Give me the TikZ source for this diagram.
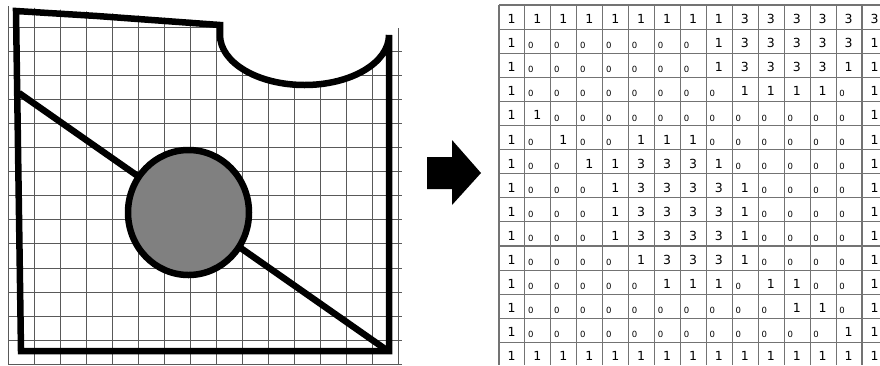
\documentclass[tikz,border=0pt]{standalone}
\usepackage{fontspec}
\setmainfont{DejaVu Sans}
\usetikzlibrary{positioning}

\begin{document}
\begin{tikzpicture}[
    x=1pt, y=-1pt,
    gridline/.style={black!65, line width=1pt},
    cellline/.style={black!55, line width=1.1pt},
    outline/.style={line width=6.5pt, line join=miter},
    blob/.style={line width=6.5pt, fill=black!50},
    num/.style={inner sep=0pt, font=\fontsize{12.5}{14}\selectfont},
    zero/.style={inner sep=0pt, font=\fontsize{8.5}{9}\selectfont}
]
\useasboundingbox (0,0) rectangle (880,365);

% Grid behind the shape
\begin{scope}
\clip (8,6) -- (97,12) -- (220,22) -- (220,35) arc[start angle=180, end angle=0, x radius=84.5, y radius=50] -- (389,28) -- (402,28) -- (402,365) -- (8,365) -- cycle;
\foreach \i in {0,...,15} \draw[gridline] ({8+26*\i},0) -- ({8+26*\i},365);
\foreach \j in {0,...,14} \draw[gridline] (8,{27+24.1*\j}) -- (402,{27+24.1*\j});
\end{scope}

% Shape with notch
\draw[outline] (16,11) -- (97,16) -- (220,25) -- (220,35) arc[start angle=180, end angle=0, x radius=84.5, y radius=50] -- (389,351) -- (21,351) -- cycle;
\draw[outline] (19,93) -- (388,351);

% Disc
\draw[blob] (188.5,212.5) ellipse [x radius=60.5, y radius=62.5];

% Arrow
\fill (427,157) -- (452,157) -- (452,140) -- (481,173) -- (452,205) -- (452,189) -- (427,189) -- cycle;

% Table lines
\foreach \i in {0,...,15} \draw[cellline] ({499+25.93*\i},5) -- ({499+25.93*\i},365);
\foreach \j in {0,...,15} \draw[cellline] (499,{5+24.1*\j}) -- (880,{5+24.1*\j});

% Table values
\foreach \vals [count=\r] in {
    {1,1,1,1,1,1,1,1,1,3,3,3,3,3,3},
    {1,0,0,0,0,0,0,0,1,3,3,3,3,3,1},
    {1,0,0,0,0,0,0,0,1,3,3,3,3,1,1},
    {1,0,0,0,0,0,0,0,0,1,1,1,1,0,1},
    {1,1,0,0,0,0,0,0,0,0,0,0,0,0,1},
    {1,0,1,0,0,1,1,1,0,0,0,0,0,0,1},
    {1,0,0,1,1,3,3,3,1,0,0,0,0,0,1},
    {1,0,0,0,1,3,3,3,3,1,0,0,0,0,1},
    {1,0,0,0,1,3,3,3,3,1,0,0,0,0,1},
    {1,0,0,0,1,3,3,3,3,1,0,0,0,0,1},
    {1,0,0,0,0,1,3,3,3,1,0,0,0,0,1},
    {1,0,0,0,0,0,1,1,1,0,1,1,0,0,1},
    {1,0,0,0,0,0,0,0,0,0,0,1,1,0,1},
    {1,0,0,0,0,0,0,0,0,0,0,0,0,1,1},
    {1,1,1,1,1,1,1,1,1,1,1,1,1,1,1}%
}{
    \foreach \v [count=\c] in \vals {
        \ifnum\v=0
            \node[zero] (cell-\r-\c) at ({499+25.93*(\c-1)+6},{5+24.1*(\r-1)+16.5}) {0};
        \else
            \node[num] (cell-\r-\c) at ({499+25.93*(\c-1)+12.5},{5+24.1*(\r-1)+14}) {\v};
        \fi
    }
}

\end{tikzpicture}
\end{document}
